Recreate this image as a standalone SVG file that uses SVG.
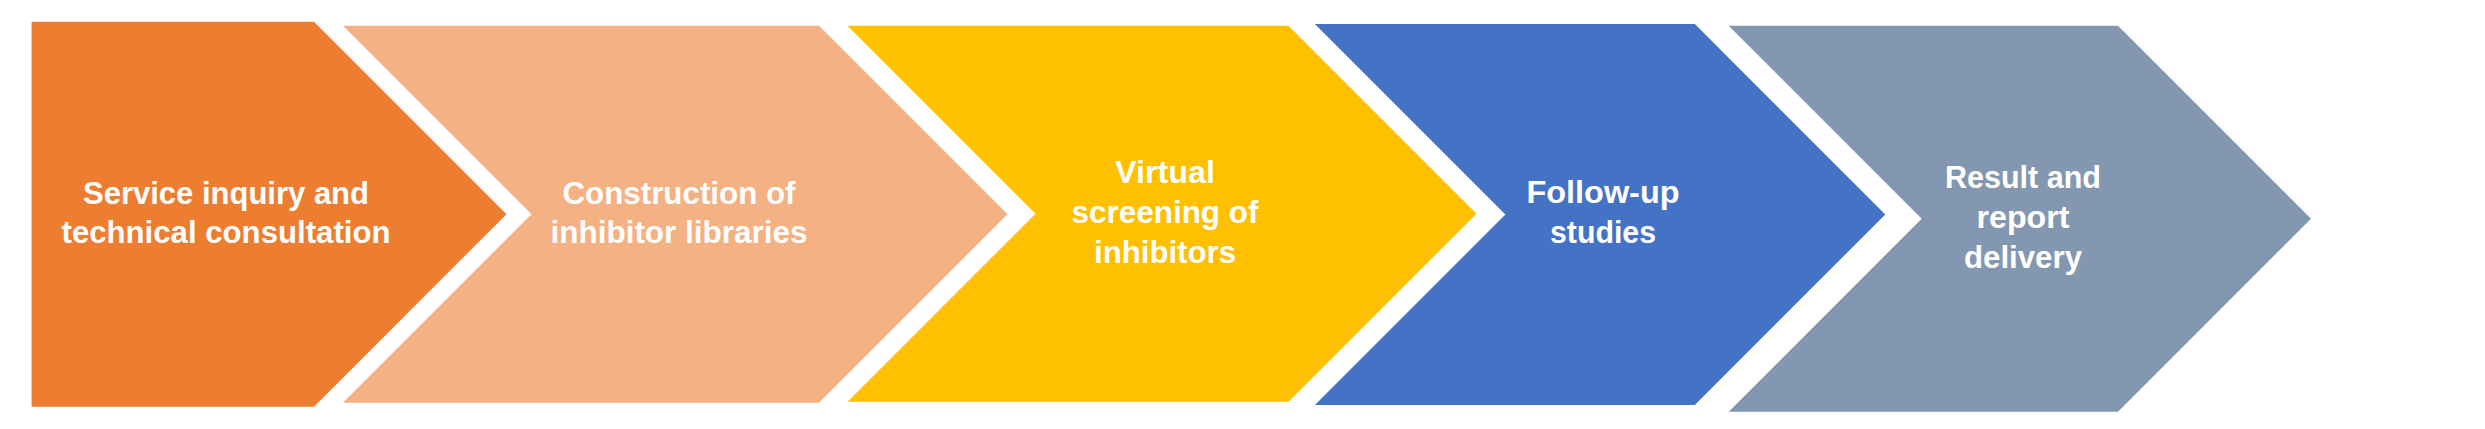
<svg xmlns="http://www.w3.org/2000/svg" width="2485" height="429" viewBox="0 0 2485 429">
<style>
.lbl{font-family:"Liberation Sans",Arial,sans-serif;font-weight:bold;font-size:31px;fill:#ffffff;text-anchor:middle}
</style>
<rect x="0" y="0" width="2485" height="429" fill="#ffffff"/>
<g id="step1">
<polygon points="31.6,21.7 314,21.7 506.5,214.2 314,406.7 31.6,406.7" fill="#ED7D31"/>
<text class="lbl" x="226" y="204" textLength="286" lengthAdjust="spacingAndGlyphs">Service inquiry and</text>
<text class="lbl" x="226" y="243" textLength="329" lengthAdjust="spacingAndGlyphs">technical consultation</text>
</g>
<g id="step2">
<polygon points="343,25.7 819,25.7 1007.5,214.2 819,402.7 343,402.7 531.5,214.2" fill="#F4B183"/>
<text class="lbl" x="679" y="204" textLength="233" lengthAdjust="spacingAndGlyphs">Construction of</text>
<text class="lbl" x="679" y="243" textLength="257" lengthAdjust="spacingAndGlyphs">inhibitor libraries</text>
</g>
<g id="step3">
<polygon points="847.5,25.7 1288.5,25.7 1476.5,213.7 1288.5,401.7 847.5,401.7 1035.5,213.7" fill="#FFC000"/>
<text class="lbl" x="1165" y="183" textLength="100" lengthAdjust="spacingAndGlyphs">Virtual</text>
<text class="lbl" x="1165" y="223" textLength="187" lengthAdjust="spacingAndGlyphs">screening of</text>
<text class="lbl" x="1165" y="263" textLength="142" lengthAdjust="spacingAndGlyphs">inhibitors</text>
</g>
<g id="step4">
<polygon points="1314.9,24 1694.8,24 1885.3,214.5 1694.8,405 1314.9,405 1505.4,214.5" fill="#4472C4"/>
<text class="lbl" x="1603" y="203" textLength="153" lengthAdjust="spacingAndGlyphs">Follow-up</text>
<text class="lbl" x="1603" y="243" textLength="106" lengthAdjust="spacingAndGlyphs">studies</text>
</g>
<g id="step5">
<polygon points="1728.7,25.7 2118,25.7 2311,218.7 2118,411.7 1728.7,411.7 1921.7,218.7" fill="#8497B0"/>
<text class="lbl" x="2023" y="188" textLength="156" lengthAdjust="spacingAndGlyphs">Result and</text>
<text class="lbl" x="2023" y="228" textLength="93" lengthAdjust="spacingAndGlyphs">report</text>
<text class="lbl" x="2023" y="268" textLength="118" lengthAdjust="spacingAndGlyphs">delivery</text>
</g>
<g id="connectors"></g>
</svg>
